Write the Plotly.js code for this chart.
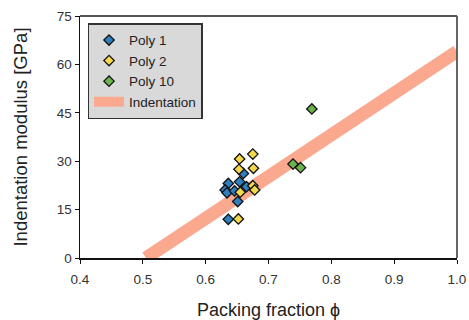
<!DOCTYPE html>
<html><head><meta charset="utf-8">
<script src="https://cdn.plot.ly/plotly-3.0.1.min.js"></script>
<style>html,body{margin:0;padding:0;background:#fff}#chart{width:469px;height:320px}</style>
</head><body><div id="chart"></div>
<script>
const poly1X = [0.660, 0.636, 0.654, 0.665, 0.631, 0.634, 0.646, 0.651, 0.636];
const poly1Y = [26.2, 23.1, 23.6, 22.1, 21.1, 20.2, 20.8, 17.5, 12.0];
const poly2X = [0.675, 0.654, 0.676, 0.653, 0.675, 0.678, 0.655, 0.652];
const poly2Y = [32.2, 30.7, 27.8, 27.5, 22.4, 21.1, 20.4, 12.1];
const poly10X = [0.769, 0.739, 0.751];
const poly10Y = [46.2, 29.1, 28.0];
const fitX = [0.505, 1.0];
const fitY = [0, 64];
const xTicks = [0.4, 0.5, 0.6, 0.7, 0.8, 0.9, 1.0];
const xTickText = ['0.4','0.5','0.6','0.7','0.8','0.9','1.0'];
const yTicks = [0, 15, 30, 45, 60, 75];

const mk = (c) => ({symbol:'diamond', size:8, color:c, line:{color:'#111', width:1.3}});
const data = [
  {x: fitX, y: fitY, mode:'lines', name:'Indentation', showlegend:false,
   line:{color:'rgb(250,168,142)', width:13}, hoverinfo:'skip'},
  {x: poly1X, y: poly1Y, mode:'markers', name:'Poly 1', marker: mk('#2f7fbf')},
  {x: poly2X, y: poly2Y, mode:'markers', name:'Poly 2', marker: mk('#f3d84e')},
  {x: poly10X, y: poly10Y, mode:'markers', name:'Poly 10', marker: mk('#6cb34e')},
  {x: [null], y: [null], mode:'lines', name:'Indentation',
   line:{color:'rgb(250,168,142)', width:13}}
];
const layout = {
  width:469, height:320,
  margin:{l:80, r:12, t:16, b:62},
  paper_bgcolor:'#fff', plot_bgcolor:'#fff',
  font:{family:'Liberation Sans, Arial, sans-serif', color:'#333', size:13},
  showlegend:true,
  legend:{x:0.02, y:0.97, xanchor:'left', yanchor:'top', bgcolor:'#d9d9d9',
    bordercolor:'#333', borderwidth:1.5, font:{size:13.5, color:'#222'},
    itemwidth:30, tracegroupgap:0, traceorder:'normal'},
  xaxis:{range:[0.4,1.0], tickvals:xTicks, ticktext:xTickText, showgrid:false, zeroline:false,
    showline:true, linecolor:'#111', linewidth:1.5, mirror:false, ticks:'outside', ticklen:4,
    tickcolor:'#111', tickfont:{size:13.5, color:'#333'}, ticklabelstandoff:4,
    title:{text:'Packing fraction ϕ', font:{size:18, color:'#222'}, standoff:18}},
  yaxis:{range:[0,75], tickvals:yTicks, showgrid:false, zeroline:false,
    showline:true, linecolor:'#111', linewidth:1.5, mirror:false, ticks:'outside', ticklen:4,
    tickcolor:'#111', tickfont:{size:13.5, color:'#333'},
    title:{text:'Indentation modulus [GPa]', font:{size:18.5, color:'#222'}, standoff:24}},
  shapes:[
    {type:'line', xref:'paper', yref:'paper', x0:0, x1:1, y0:1, y1:1, line:{color:'#555', width:1.8}},
    {type:'line', xref:'paper', yref:'paper', x0:1, x1:1, y0:0, y1:1, line:{color:'#555', width:1.8}}
  ]
};
Plotly.newPlot('chart', data, layout, {displayModeBar:false, staticPlot:true});
</script></body></html>
